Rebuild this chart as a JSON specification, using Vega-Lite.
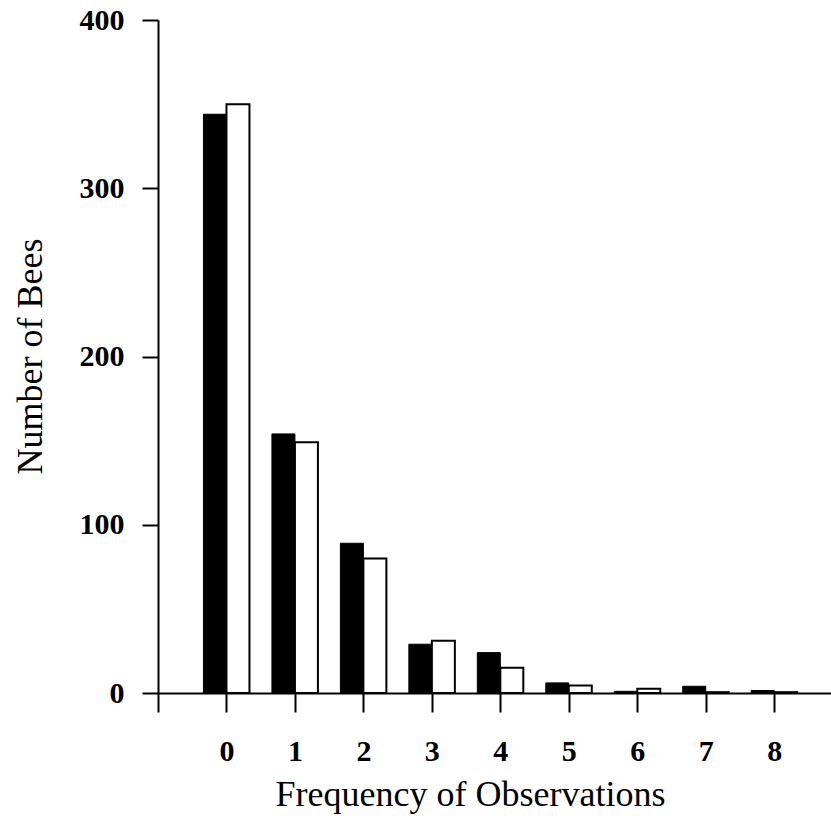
{
  "$schema": "https://vega.github.io/schema/vega-lite/v6.json",
  "width": 673,
  "height": 673,
  "autosize": {"type": "none"},
  "padding": {"left": 158, "top": 20, "right": 0, "bottom": 142},
  "background": "white",
  "config": {
    "view": {"stroke": null},
    "axis": {
      "grid": false,
      "domainColor": "black",
      "domainWidth": 2,
      "tickColor": "black",
      "tickWidth": 2,
      "labelFont": "Liberation Serif",
      "labelFontWeight": "bold",
      "labelFontSize": 30,
      "labelColor": "black",
      "titleFont": "Liberation Serif",
      "titleFontWeight": "normal",
      "titleFontSize": 36,
      "titleColor": "black"
    }
  },
  "data": {
    "values": [
      {"freq": 0, "series": "Group 1", "count": 344},
      {"freq": 0, "series": "Group 2", "count": 350},
      {"freq": 1, "series": "Group 1", "count": 154},
      {"freq": 1, "series": "Group 2", "count": 149},
      {"freq": 2, "series": "Group 1", "count": 89},
      {"freq": 2, "series": "Group 2", "count": 80},
      {"freq": 3, "series": "Group 1", "count": 29},
      {"freq": 3, "series": "Group 2", "count": 31},
      {"freq": 4, "series": "Group 1", "count": 24},
      {"freq": 4, "series": "Group 2", "count": 15},
      {"freq": 5, "series": "Group 1", "count": 6},
      {"freq": 5, "series": "Group 2", "count": 4.5},
      {"freq": 6, "series": "Group 1", "count": 1},
      {"freq": 6, "series": "Group 2", "count": 2.5},
      {"freq": 7, "series": "Group 1", "count": 4},
      {"freq": 7, "series": "Group 2", "count": 0.5},
      {"freq": 8, "series": "Group 1", "count": 1.5},
      {"freq": 8, "series": "Group 2", "count": 0.5}
    ]
  },
  "layer": [
    {
      "transform": [{"filter": "datum.series === 'Group 1'"}],
      "mark": {"type": "bar", "width": 23, "xOffset": -11.5, "fill": "black", "stroke": "black", "strokeWidth": 1},
      "encoding": {
        "x": {
          "field": "freq",
          "type": "quantitative",
          "scale": {"domain": [-1, 8.83], "nice": false, "zero": false, "padding": 0},
          "axis": {
            "values": [-1, 0, 1, 2, 3, 4, 5, 6, 7, 8],
            "format": "d",
            "labelExpr": "datum.value < 0 ? '' : datum.label",
            "tickSize": 19,
            "labelPadding": 24,
            "title": "Frequency of Observations",
            "titleX": 312,
            "titleY": 112,
            "titleBaseline": "alphabetic",
            "titleAnchor": null,
            "titleAlign": "center"
          }
        },
        "y": {
          "field": "count",
          "type": "quantitative",
          "scale": {"domain": [0, 400], "nice": false, "padding": 0},
          "axis": {
            "values": [0, 100, 200, 300, 400],
            "format": "d",
            "tickSize": 16,
            "labelPadding": 18,
            "title": "Number of Bees",
            "titleAngle": -90,
            "titleX": -128,
            "titleY": 336,
            "titleBaseline": "middle",
            "titleAlign": "center"
          }
        }
      }
    },
    {
      "transform": [{"filter": "datum.series === 'Group 2'"}],
      "mark": {"type": "bar", "width": 23, "xOffset": 11.5, "fill": "white", "stroke": "black", "strokeWidth": 2},
      "encoding": {
        "x": {"field": "freq", "type": "quantitative"},
        "y": {"field": "count", "type": "quantitative"}
      }
    }
  ]
}
